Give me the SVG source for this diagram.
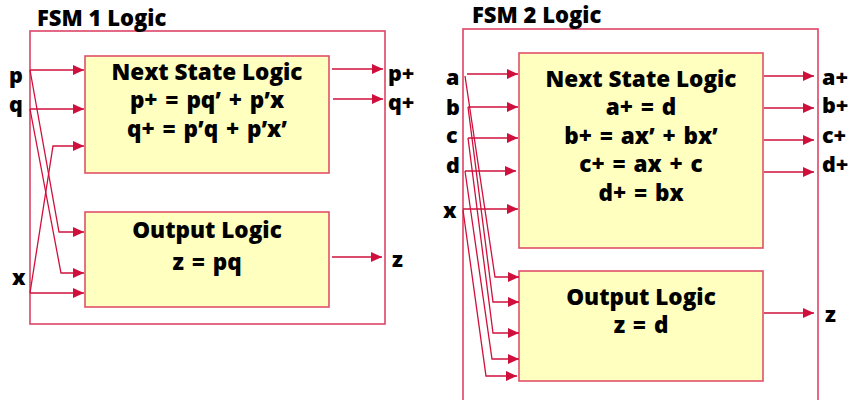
<svg xmlns="http://www.w3.org/2000/svg" width="852" height="400" viewBox="0 0 852 400">
<defs>
<marker id="ah" markerUnits="userSpaceOnUse" markerWidth="11" markerHeight="10" refX="11" refY="5" orient="auto">
<path d="M0,0 L11,5 L0,10 z" fill="#d0103c"/>
</marker>
<style>
.frame{fill:none;stroke:#de4466;stroke-width:1.6}
.box{fill:#ffffc0;stroke:#e05068;stroke-width:1.6}
.w{fill:none;stroke:#d0103c;stroke-width:1.3;marker-end:url(#ah)}
.t{font-family:"Open Sans",Lato,"DejaVu Sans",sans-serif;font-weight:800;fill:#000}
.c{text-anchor:middle;font-size:22.5px}
.e{word-spacing:2px}
.l{font-size:21.5px}
.h{font-size:22px}
</style>
</defs>
<rect width="852" height="400" fill="#fff"/>

<g id="fsm1">
<rect class="frame" x="30" y="31" width="355" height="293"/>
<text class="t h" x="37" y="26">FSM 1 Logic</text>
</g>
<g id="fsm1-next">
<rect class="box" x="85" y="56" width="244" height="117"/>
<text class="t c" x="207" y="80">Next State Logic</text>
<text class="t c e" x="207" y="108">p+ = pq’ + p’x</text>
<text class="t c e" x="207" y="137">q+ = p’q + p’x’</text>
</g>
<g id="fsm1-out">
<rect class="box" x="85" y="212" width="244" height="95"/>
<text class="t c" x="207" y="238">Output Logic</text>
<text class="t c e" x="207" y="270">z = pq</text>
</g>
<g id="fsm1-labels">
<text class="t l" x="9" y="83">p</text>
<text class="t l" x="9" y="112">q</text>
<text class="t l" x="12" y="285">x</text>
<text class="t l" x="388" y="81">p+</text>
<text class="t l" x="388" y="110">q+</text>
<text class="t l" x="392" y="267">z</text>
</g>

<g id="fsm2">
<rect class="frame" x="463" y="29" width="355" height="385"/>
<text class="t h" x="472" y="23">FSM 2 Logic</text>
</g>
<g id="fsm2-next">
<rect class="box" x="519" y="53" width="244" height="195"/>
<text class="t c" x="641" y="87">Next State Logic</text>
<text class="t c e" x="641" y="115">a+ = d</text>
<text class="t c e" x="641" y="144">b+ = ax’ + bx’</text>
<text class="t c e" x="641" y="172">c+ = ax + c</text>
<text class="t c e" x="641" y="201">d+ = bx</text>
</g>
<g id="fsm2-out">
<rect class="box" x="519" y="271" width="244" height="110"/>
<text class="t c" x="641" y="305">Output Logic</text>
<text class="t c e" x="641" y="333">z = d</text>
</g>
<g id="fsm2-labels">
<text class="t l" x="446" y="85">a</text>
<text class="t l" x="446" y="115">b</text>
<text class="t l" x="446" y="143">c</text>
<text class="t l" x="446" y="173">d</text>
<text class="t l" x="443" y="218">x</text>
<text class="t l" x="822" y="85">a+</text>
<text class="t l" x="822" y="113">b+</text>
<text class="t l" x="822" y="143">c+</text>
<text class="t l" x="822" y="172">d+</text>
<text class="t l" x="825" y="322">z</text>
</g>

<g id="connectors">
<path class="w" d="M30,70 H84"/>
<path class="w" d="M30,109 H84"/>
<path class="w" d="M30,293 L53,146 H84"/>
<path class="w" d="M30,293 H84"/>
<path class="w" d="M30,70 L59,232 H84"/>
<path class="w" d="M30,109 L61,273 H84"/>
<path class="w" d="M332,69 H383"/>
<path class="w" d="M333,99 H383"/>
<path class="w" d="M332,257 H382"/>

<path class="w" d="M467,74 H518"/>
<path class="w" d="M468,107 H518"/>
<path class="w" d="M468,138 H518"/>
<path class="w" d="M465,171 H516"/>
<path class="w" d="M463,209 H518"/>
<path class="w" d="M465,76 L495,277 H519"/>
<path class="w" d="M468,107 L493,302 H519"/>
<path class="w" d="M468,138 L493,333 H519"/>
<path class="w" d="M465,171 L492,359 H519"/>
<path class="w" d="M463,210 L486,376 H517"/>
<path class="w" d="M764,76 H814"/>
<path class="w" d="M764,108 H814"/>
<path class="w" d="M764,140 H814"/>
<path class="w" d="M764,172 H814"/>
<path class="w" d="M764,313 H814"/>
</g>
</svg>
